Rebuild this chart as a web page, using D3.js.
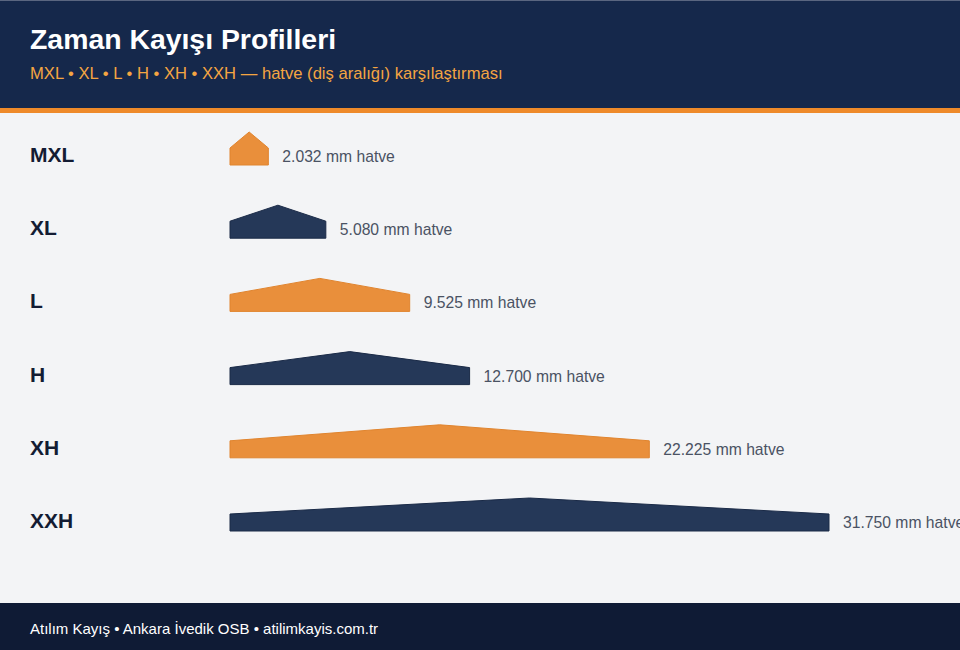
<!DOCTYPE html>
<html><head><meta charset="utf-8">
<script src="https://cdn.jsdelivr.net/npm/d3@7"></script>
<style>html,body{margin:0;padding:0;background:#f3f4f6;}svg{display:block;font-family:"Liberation Sans",Arial,Helvetica,sans-serif;}</style>
</head><body>
<svg id="c" width="960" height="650"></svg>
<script>
const profiles = ["MXL","XL","L","H","XH","XXH"];
const pitches = [2.032, 5.080, 9.525, 12.700, 22.225, 31.750];
const colors = ["#e98f3b","#253858","#e98f3b","#253858","#e98f3b","#253858"];
const strokes = ["#e0842e","#1a2a47","#e0842e","#1a2a47","#e0842e","#1a2a47"];
const title = "Zaman Kayışı Profilleri";
const subtitle = "MXL • XL • L • H • XH • XXH — hatve (diş aralığı) karşılaştırması";
const footer = "Atılım Kayış • Ankara İvedik OSB • atilimkayis.com.tr";

const svg = d3.select("#c");
svg.append("rect").attr("width",960).attr("height",650).attr("fill","#f3f4f6");
// header
svg.append("rect").attr("x",0).attr("y",0).attr("width",960).attr("height",108).attr("fill","#15284b");
svg.append("rect").attr("x",0).attr("y",0).attr("width",960).attr("height",1).attr("fill","#5a6680");
svg.append("rect").attr("x",0).attr("y",108).attr("width",960).attr("height",5).attr("fill","#ee8a2a");
svg.append("text").attr("x",30).attr("y",49).attr("fill","#ffffff").attr("font-size",28.4).attr("font-weight","bold").text(title);
svg.append("text").attr("x",30).attr("y",79).attr("fill","#f4a542").attr("font-size",16.6).text(subtitle);
// footer
svg.append("rect").attr("x",0).attr("y",603).attr("width",960).attr("height",47).attr("fill","#0f1b35");
svg.append("text").attr("x",30).attr("y",634).attr("fill","#ffffff").attr("font-size",15).text(footer);

const x = d3.scaleLinear().domain([0, 31.75]).range([230, 829]);
const y = d3.scalePoint().domain(profiles).range([165, 531]);
const rectH = 17, peakH = 33;

const rows = svg.append("g").selectAll("g").data(profiles).join("g");
rows.append("path")
  .attr("d",(d,i)=>{
    const x0 = x(0), x1 = x(pitches[i]), b = y(d), xm = (x0+x1)/2;
    return `M${x0},${b}L${x0},${b-rectH}L${xm},${b-peakH}L${x1},${b-rectH}L${x1},${b}Z`;
  })
  .attr("fill",(d,i)=>colors[i]).attr("stroke",(d,i)=>strokes[i]).attr("stroke-width",1);
rows.append("text").attr("x",30).attr("y",d=>y(d)-3)
  .attr("fill","#131c33").attr("font-size",21).attr("font-weight","bold").text(d=>d);
rows.append("text").attr("x",(d,i)=>x(pitches[i])+14).attr("y",d=>y(d)-3)
  .attr("fill","#4a5263").attr("font-size",15.7).text((d,i)=>pitches[i].toFixed(3)+" mm hatve");
</script>
</body></html>
